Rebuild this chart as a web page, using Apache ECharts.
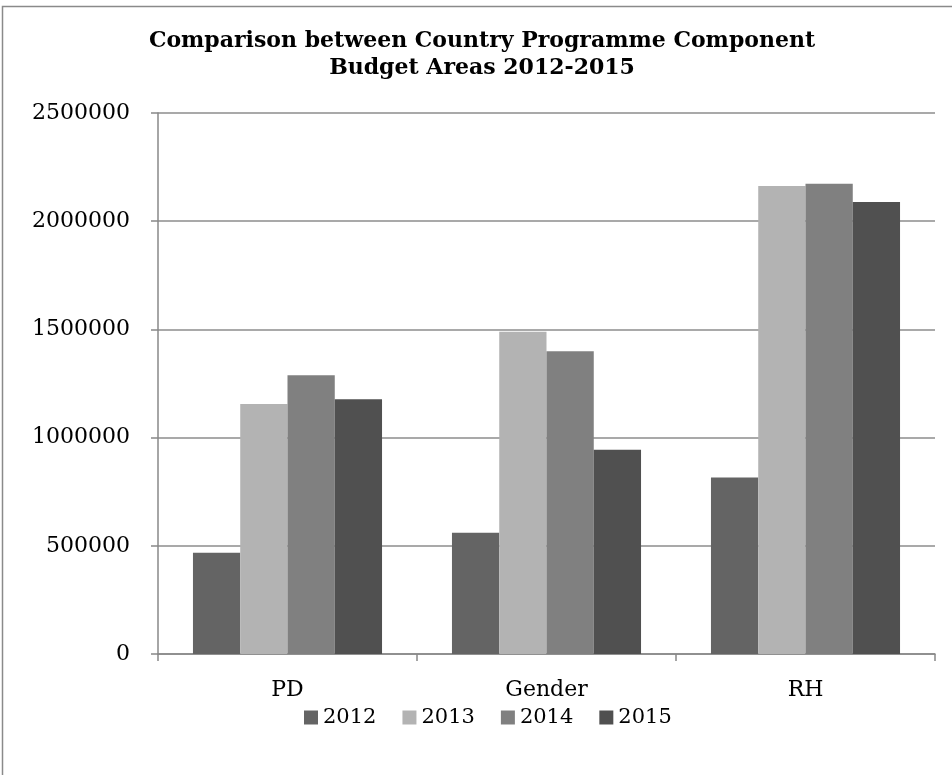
<!DOCTYPE html>
<html>
<head>
<meta charset="utf-8">
<script src="https://cdn.jsdelivr.net/npm/echarts@6/dist/echarts.min.js"></script>
<style>
html,body{margin:0;padding:0;background:#fff;}
#chart{width:952px;height:775px;}
</style>
</head>
<body>
<div id="chart"></div>
<script>
const categories = ['PD', 'Gender', 'RH'];
const years = ['2012', '2013', '2014', '2015'];
const values2012 = [468000, 560000, 816000];
const values2013 = [1155000, 1489000, 2163000];
const values2014 = [1288000, 1399000, 2173000];
const values2015 = [1177000, 944000, 2089000];
const yTicks = [0, 500000, 1000000, 1500000, 2000000, 2500000];
const colors = ['#646464', '#b3b3b3', '#808080', '#505050'];

const seriesValues = [values2012, values2013, values2014, values2015];
const font = 'DejaVu Serif';

const chart = echarts.init(document.getElementById('chart'));
chart.setOption({
  animation: false,
  backgroundColor: '#ffffff',
  color: colors,
  title: {
    text: 'Comparison between Country Programme Component\nBudget Areas 2012-2015',
    left: 477,
    textAlign: 'center',
    top: 23,
    textStyle: {
      fontFamily: font,
      fontWeight: 'bold',
      fontSize: 22,
      lineHeight: 27,
      color: '#000'
    }
  },
  graphic: [{
    type: 'rect',
    shape: { x: 2.5, y: 6.5, width: 1000, height: 1000 },
    style: { fill: 'none', stroke: '#8a8a8a', lineWidth: 1.5 },
    silent: true,
    z: 0
  }],
  legend: {
    data: years,
    top: 702,
    left: 299,
    itemWidth: 14,
    itemHeight: 14,
    itemGap: 26,
    icon: 'rect',
    textStyle: { fontFamily: font, fontSize: 21, color: '#000' }
  },
  grid: { left: 158, right: 17, top: 113, bottom: 121, containLabel: false },
  xAxis: {
    type: 'category',
    data: categories,
    axisLine: { show: true, lineStyle: { color: '#888', width: 1.5 } },
    axisTick: { show: true, length: 7, lineStyle: { color: '#888', width: 1.5 } },
    axisLabel: { fontFamily: font, fontSize: 22, color: '#000', margin: 25 }
  },
  yAxis: {
    type: 'value',
    min: yTicks[0],
    max: yTicks[yTicks.length - 1],
    interval: yTicks[1] - yTicks[0],
    axisLine: { show: true, lineStyle: { color: '#888', width: 1.5 } },
    axisTick: { show: true, length: 7, lineStyle: { color: '#888', width: 1.5 } },
    axisLabel: { fontFamily: font, fontSize: 22, color: '#000', margin: 28, formatter: v => String(v) },
    splitLine: { show: true, lineStyle: { color: '#8c8c8c', width: 1.5 } }
  },
  series: years.map((y, i) => ({
    name: y,
    type: 'bar',
    data: seriesValues[i],
    barGap: '0%',
    barCategoryGap: '27%',
    itemStyle: { color: colors[i] }
  }))
});
</script>
</body>
</html>
